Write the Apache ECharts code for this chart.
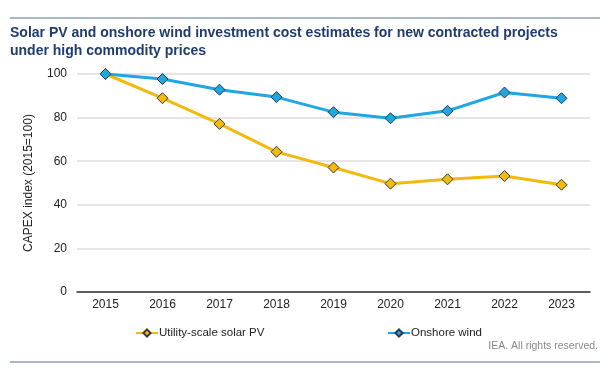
<!DOCTYPE html>
<html><head><meta charset="utf-8">
<script src="https://cdn.jsdelivr.net/npm/echarts@6/dist/echarts.min.js"></script>
<style>html,body{margin:0;padding:0;background:#fff}#c{width:610px;height:370px}</style>
</head><body><div id="c"></div>
<script>
const years = ['2015','2016','2017','2018','2019','2020','2021','2022','2023'];
const solarPV = [100, 88.9, 77.1, 64.3, 57.1, 49.7, 51.7, 53.2, 49.2];
const onshoreWind = [100, 97.7, 92.8, 89.4, 82.5, 79.7, 83.1, 91.5, 88.9];
const solarName = 'Utility-scale solar PV';
const windName = 'Onshore wind';

const chart = echarts.init(document.getElementById('c'));
const font = 'Liberation Sans, Arial, sans-serif';
chart.setOption({
  animation: false,
  textStyle: { fontFamily: font },
  title: {
    text: 'Solar PV and onshore wind investment cost estimates for new contracted projects\nunder high commodity prices',
    left: 10, top: 24, padding: 0,
    textStyle: { fontSize: 14, fontWeight: 'bold', color: '#1f3c6e', lineHeight: 18, fontFamily: font }
  },
  graphic: [
    { type: 'line', shape: { x1: 10, y1: 18, x2: 600, y2: 18 }, style: { stroke: '#5a6e8c', lineWidth: 1 } },
    { type: 'line', shape: { x1: 10, y1: 362, x2: 600, y2: 362 }, style: { stroke: '#5a6e8c', lineWidth: 1 } },
    { type: 'text', right: 12, top: 341, style: { text: 'IEA. All rights reserved.', fill: '#8a8a8a', fontSize: 10.5, fontFamily: font } }
  ],
  legend: [
    { data: [solarName], left: 130, top: 322, itemWidth: 22, itemHeight: 9, itemGap: 2,
      textStyle: { fontSize: 11.5, color: '#222', padding: [0,0,0,-4] } },
    { data: [windName], left: 382, top: 322, itemWidth: 22, itemHeight: 9, itemGap: 2,
      textStyle: { fontSize: 11.5, color: '#222', padding: [0,0,0,-4] } }
  ],
  grid: { left: 77, right: 20, top: 74, bottom: 78 },
  xAxis: {
    type: 'category', data: years, boundaryGap: true,
    axisLine: { lineStyle: { color: '#333', width: 1.5 } },
    axisTick: { show: false },
    axisLabel: { color: '#222', fontSize: 12, margin: 7 }
  },
  yAxis: {
    type: 'value', min: 0, max: 100, interval: 20,
    name: 'CAPEX index (2015=100)', nameLocation: 'middle', nameGap: 42,
    nameTextStyle: { fontSize: 12, color: '#222' },
    axisLine: { show: false }, axisTick: { show: false },
    axisLabel: { color: '#222', fontSize: 12, margin: 10 },
    splitLine: { lineStyle: { color: '#dcdcdc', width: 1.5 } }
  },
  series: [
    { name: solarName, type: 'line', data: solarPV, symbol: 'diamond', symbolSize: 11,
      lineStyle: { color: '#f2b90f', width: 3 },
      itemStyle: { color: '#f2b90f', borderColor: '#3a3a3a', borderWidth: 1 } },
    { name: windName, type: 'line', data: onshoreWind, symbol: 'diamond', symbolSize: 11,
      lineStyle: { color: '#1ea7e1', width: 3 },
      itemStyle: { color: '#1ea7e1', borderColor: '#2a3a4a', borderWidth: 1 } }
  ]
});
</script></body></html>
